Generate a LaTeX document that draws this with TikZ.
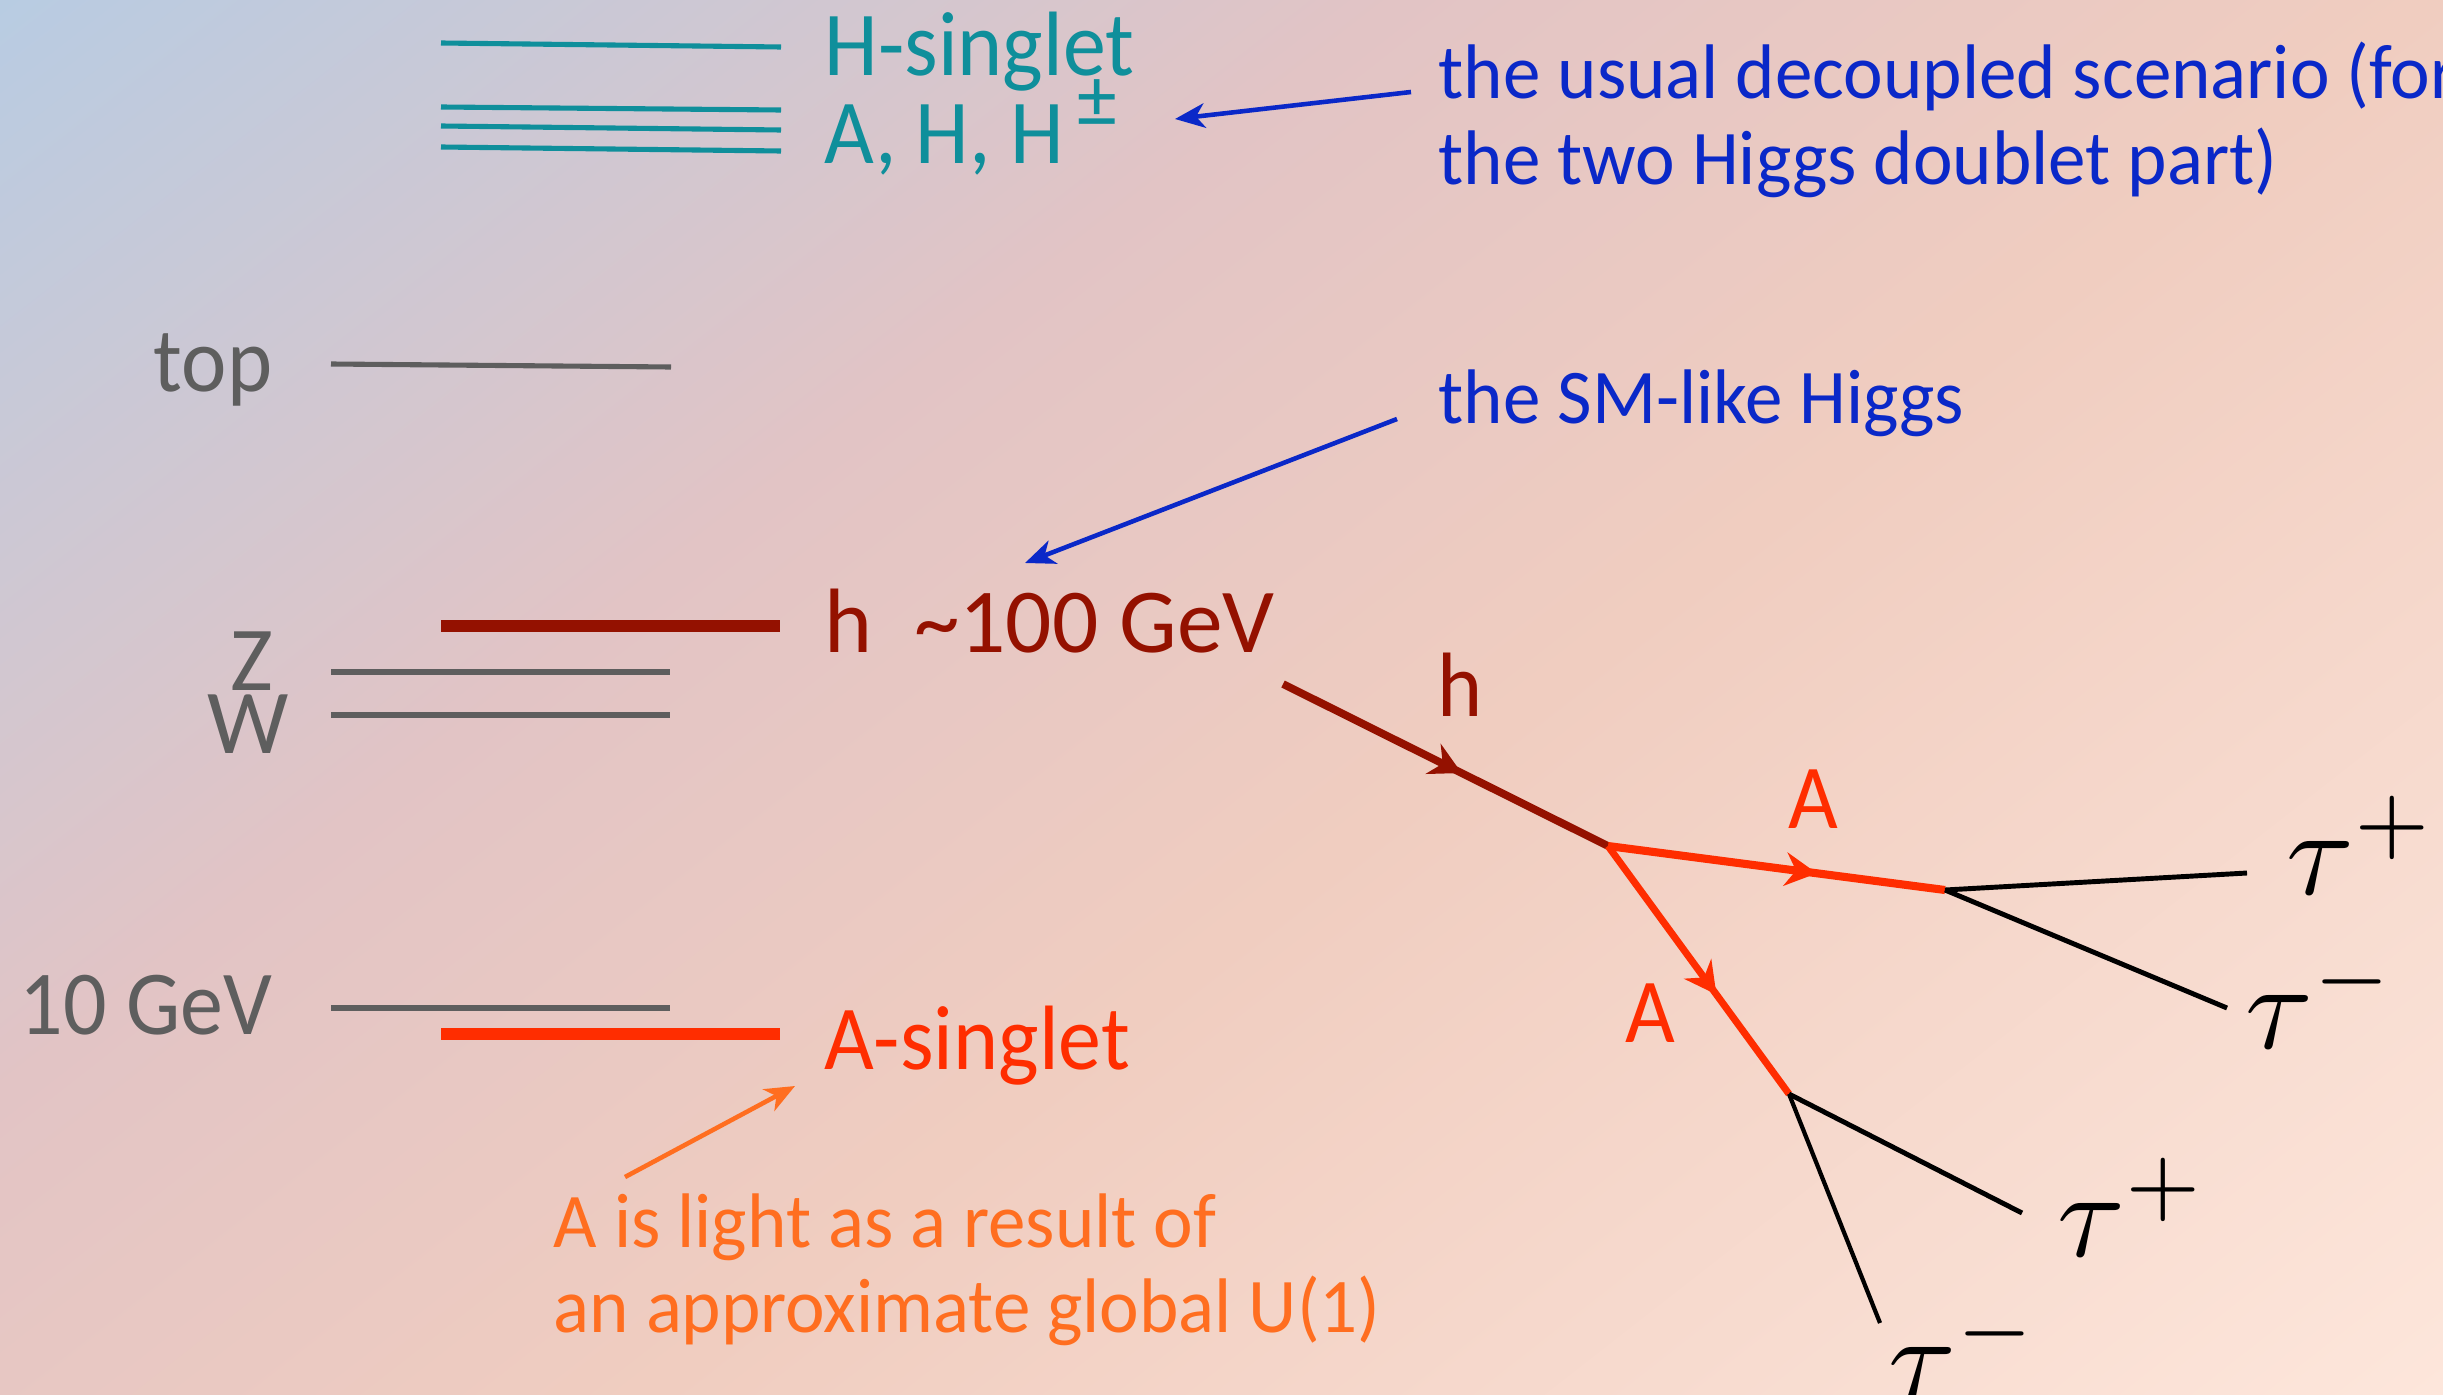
\documentclass[tikz,border=0pt]{standalone}
\usepackage{fontspec}
\setmainfont{Carlito}[FakeStretch=0.94]
\newfontfamily\fullface{Carlito}
\newfontfamily\noteface{Carlito}[FakeStretch=0.97]
\usetikzlibrary{arrows.meta,decorations.markings}

\definecolor{tealcol}{HTML}{0F8F9B}
\definecolor{graycol}{HTML}{5E5E5E}
\definecolor{bluecol}{HTML}{0A28C8}
\definecolor{darkred}{HTML}{941100}
\definecolor{brightred}{HTML}{FF2D00}
\definecolor{orangecol}{HTML}{FF6E20}
\definecolor{bgblue}{HTML}{B7CCE3}
\definecolor{bgpink}{HTML}{E2C4C5}
\definecolor{bgsalmon}{HTML}{F0CDC0}
\definecolor{bgpeach}{HTML}{FDE6DB}

\pgfdeclarehorizontalshading{bgfade}{100bp}{
  color(0bp)=(bgblue); color(23bp)=(bgblue); color(41bp)=(bgpink);
  color(54bp)=(bgsalmon); color(76.6bp)=(bgpeach); color(100bp)=(bgpeach)}

\begin{document}
\begin{tikzpicture}[x=0.01cm, y=-0.01cm,
    txt/.style={anchor=base west, inner sep=0pt, font=\fontsize{26}{30}\selectfont},
    notetxt/.style={anchor=base west, inner sep=0pt, font=\noteface\fontsize{22}{26}\selectfont},
    taulabel/.style={anchor=base west, inner sep=0pt, scale=3.5},
    level/.style={line width=1.45pt},
    heavy/.style={line width=3.3pt},
    note/.style={line width=1.3pt, -{Stealth[length=8.5pt, width=7pt, inset=2.5pt]}},
    flow/.style={postaction={decorate}, decoration={markings,
        mark=at position #1 with {\arrow{Stealth[length=9pt, width=9.5pt, inset=3pt]}}}}
  ]
    % Background
    \clip (0,0) rectangle (2443,1394);
    \shade[shading=bgfade, shading angle=-52] (0,-524.5) rectangle (2443,1918.5);

    % Heavy scalars
    \coordinate (singletL) at (441,43);   \coordinate (singletR) at (781,47);
    \coordinate (heavyaL) at (441,107);   \coordinate (heavyaR) at (781,110);
    \coordinate (heavybL) at (441,126);   \coordinate (heavybR) at (781,130);
    \coordinate (heavycL) at (441,147);   \coordinate (heavycR) at (781,151);
    \draw[tealcol, level] (singletL) -- (singletR);
    \draw[tealcol, level] (heavyaL) -- (heavyaR);
    \draw[tealcol, level] (heavybL) -- (heavybR);
    \draw[tealcol, level] (heavycL) -- (heavycR);
    \node[txt, tealcol] (singlet) at (824,76) {H-singlet};
    \node[txt, tealcol] (heavy) at (824,163)
        {A, H, H\hspace{4pt}\raisebox{10pt}{\fontsize{24}{24}\selectfont ±}};

    % SM levels
    \coordinate (topL) at (331,364);      \coordinate (topR) at (671,367);
    \coordinate (zL) at (331,672);        \coordinate (zR) at (670,672);
    \coordinate (wL) at (331,715);        \coordinate (wR) at (670,715);
    \coordinate (tenL) at (331,1008);     \coordinate (tenR) at (670,1008);
    \draw[graycol, level] (topL) -- (topR);
    \draw[graycol, level] (zL) -- (zR);
    \draw[graycol, level] (wL) -- (wR);
    \draw[graycol, level] (tenL) -- (tenR);
    \node[txt, graycol, anchor=base east] (toplabel) at (273,391) {top};
    \node[txt, graycol, anchor=base east] (zlabel) at (274,690) {\fullface Z};
    \node[txt, graycol, anchor=base east] (wlabel) at (290,753) {\fullface W};
    \node[txt, graycol, anchor=base east] (tenlabel) at (273,1034) {10 GeV};

    % Light Higgs levels
    \coordinate (hL) at (441,626);        \coordinate (hR) at (780,626);
    \coordinate (aL) at (441,1034);       \coordinate (aR) at (780,1034);
    \draw[darkred, heavy] (hL) -- (hR);
    \draw[brightred, heavy] (aL) -- (aR);
    \node[txt, darkred] (hlabel) at (824,652) {\fullface h\ \ \textasciitilde100 GeV};
    \node[txt, brightred] (alabel) at (824,1069) {A-singlet};

    % Notes
    \node[notetxt, bluecol] (usual) at (1438,99) {the usual decoupled scenario (for};
    \node[notetxt, bluecol] (twohdm) at (1438,185) {the two Higgs doublet part)};
    \node[notetxt, bluecol] (smlike) at (1438,423) {the SM-like Higgs};
    \node[notetxt, orangecol] (light) at (553,1247) {A is light as a result of};
    \node[notetxt, orangecol] (global) at (553,1332) {an approximate global U(1)};
    \coordinate (usualtail) at (1411,92);    \coordinate (usualtip) at (1175,119);
    \coordinate (smtail) at (1397,419);      \coordinate (smtip) at (1025,563);
    \coordinate (lighttail) at (625,1177);   \coordinate (lighttip) at (795,1086);
    \draw[note, bluecol] (usualtail) -- (usualtip);
    \draw[note, bluecol] (smtail) -- (smtip);
    \draw[note, orangecol] (lighttail) -- (lighttip);

    % Decay chain
    \coordinate (start) at (1283,684);
    \coordinate (vtx) at (1608,846);
    \coordinate (vtxup) at (1945,890);
    \coordinate (vtxdown) at (1789,1094);
    \coordinate (tauap) at (2247,873);
    \coordinate (tauam) at (2227,1008);
    \coordinate (taubp) at (2022,1213);
    \coordinate (taubm) at (1880,1323);
    \draw[darkred, line width=2.2pt, flow=0.55] (start) -- (vtx);
    \draw[brightred, line width=2.3pt, flow=0.62] (vtx) -- (vtxup);
    \draw[brightred, line width=2pt, flow=0.6] (vtx) -- (vtxdown);
    \draw[black, line width=1.4pt] (vtxup) -- (tauap);
    \draw[black, line width=1.4pt] (vtxup) -- (tauam);
    \draw[black, line width=1.4pt] (vtxdown) -- (taubp);
    \draw[black, line width=1.2pt] (vtxdown) -- (taubm);
    \node[txt, darkred] (hdecay) at (1437,716) {h};
    \node[txt, brightred] (aup) at (1788,828) {A};
    \node[txt, brightred] (adown) at (1625,1042) {A};

    % Taus
    \node[taulabel] (tauone) at (2284,894) {$\tau^+$};
    \node[taulabel] (tautwo) at (2243,1048) {$\tau^-$};
    \node[taulabel] (tauthree) at (2055,1256) {$\tau^+$};
    \node[taulabel] (taufour) at (1886,1400) {$\tau^-$};
\end{tikzpicture}
\end{document}
